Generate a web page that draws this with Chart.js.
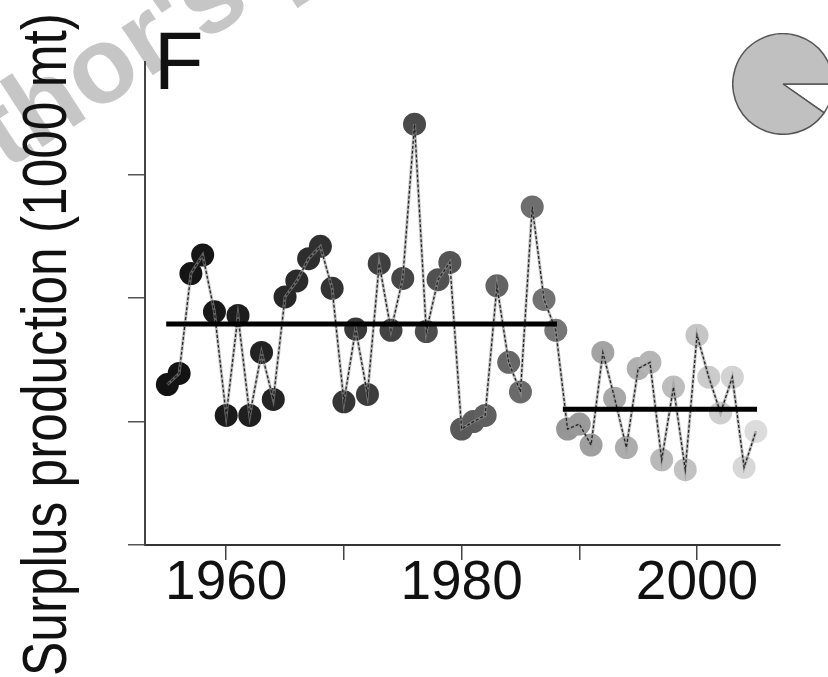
<!DOCTYPE html>
<html lang="en">
  <head>
    <meta charset="UTF-8" />
    <title>Surplus production</title>
    <script src="https://cdn.jsdelivr.net/npm/chart.js@4.4.1/dist/chart.umd.min.js"></script>
    <style>
      html, body { margin: 0; padding: 0; background: #fff; }
      body {
        width: 828px; height: 677px; overflow: hidden; position: relative;
        font-family: "Liberation Sans", Arial, sans-serif;
      }
      #mark {
        position: absolute; left: -115px; top: 158px;
        font-size: 108px; font-weight: bold; line-height: 1; color: #c6c6c6;
        white-space: nowrap; transform-origin: 0 91px; transform: rotate(-33deg);
      }
      #chart { position: absolute; left: 0; top: 0; }
      #ytitle {
        position: absolute; left: 13px; top: 676px;
        font-size: 63px; line-height: 1; color: #111; white-space: nowrap;
        transform-origin: 0 0; transform: rotate(-90deg) scaleX(0.816);
      }
      #panel {
        position: absolute; left: 154px; top: 21px;
        font-size: 81px; line-height: 1; color: #111;
      }
      #pie { position: absolute; left: 732px; top: 33px; }
    </style>
  </head>
  <body>
    <div id="mark">Author's personal copy</div>
    <canvas id="chart" width="828" height="677"></canvas>
    <div id="ytitle">Surplus production (1000 mt)</div>
    <div id="panel">F</div>
    <canvas id="pie" width="102" height="102"></canvas>

    <script>
      // data
      const years = [1955, 1956, 1957, 1958, 1959, 1960, 1961, 1962, 1963, 1964,
        1965, 1966, 1967, 1968, 1969, 1970, 1971, 1972, 1973, 1974,
        1975, 1976, 1977, 1978, 1979, 1980, 1981, 1982, 1983, 1984,
        1985, 1986, 1987, 1988, 1989, 1990, 1991, 1992, 1993, 1994,
        1995, 1996, 1997, 1998, 1999, 2000, 2001, 2002, 2003, 2004, 2005];
      const surplus = [1.30, 1.39, 2.20, 2.35, 1.89, 1.05, 1.86, 1.05, 1.56, 1.18,
        2.01, 2.14, 2.32, 2.42, 2.08, 1.16, 1.75, 1.22, 2.28, 1.74,
        2.16, 3.41, 1.73, 2.15, 2.29, 0.94, 1.00, 1.05, 2.10, 1.48,
        1.24, 2.74, 1.99, 1.74, 0.94, 0.98, 0.81, 1.56, 1.19, 0.79,
        1.43, 1.48, 0.69, 1.28, 0.61, 1.70, 1.36, 1.07, 1.36, 0.63, 0.92];

      // regime means
      const meanStart = [1954.9, 1988.6];
      const meanEnd = [1988.1, 2005.1];
      const meanLevel = [1.79, 1.10];

      const xTicks = [1960, 1970, 1980, 1990, 2000];
      const xLabelled = [1960, 1980, 2000];
      const yTicks = [0, 1, 2, 3];

      const pieShares = [9.7, 90.3];

      // points fade from black to light grey over time
      function shade(year) {
        let v;
        if (year < 1989) v = 18 + 100 * Math.pow((year - 1955) / 33, 1.3);
        else v = 150 + (year - 1989) * 70 / 16;
        v = Math.round(v);
        return "rgb(" + v + "," + v + "," + v + ")";
      }

      const pts = years.map((y, i) => ({ x: y, y: surplus[i] }));

      const datasets = [
        {
          data: pts,
          showLine: false,
          pointRadius: 11.5,
          pointHoverRadius: 11.5,
          pointBorderWidth: 0,
          pointBackgroundColor: years.map(shade),
          order: 4,
        },
        {
          data: pts,
          borderColor: "rgba(150,150,150,0.6)",
          borderWidth: 3,
          pointRadius: 0,
          order: 3,
        },
        {
          data: pts,
          borderColor: "#222",
          borderWidth: 1.3,
          borderDash: [3, 2],
          pointRadius: 0,
          order: 2,
        },
      ];
      meanLevel.forEach((m, i) => {
        datasets.push({
          data: [{ x: meanStart[i], y: m }, { x: meanEnd[i], y: m }],
          borderColor: "#000",
          borderWidth: 5,
          borderCapStyle: "butt",
          pointRadius: 0,
          order: 1,
        });
      });

      const ctx = document.getElementById("chart").getContext("2d");
      const myChart = new Chart(ctx, {
        type: "line",
        data: { datasets: datasets },
        options: {
          responsive: false,
          animation: false,
          layout: { padding: { left: 0, right: 48, top: 62, bottom: 0 } },
          plugins: { legend: { display: false }, tooltip: { enabled: false } },
          scales: {
            x: {
              type: "linear",
              min: 1953.1,
              max: 2007.05,
              afterBuildTicks: (s) => { s.ticks = xTicks.map((v) => ({ value: v })); },
              afterFit: (s) => { s.height = 132; },
              grid: { drawOnChartArea: false, tickLength: 15, color: "#444", lineWidth: 1.5 },
              border: { color: "#333", width: 2 },
              ticks: {
                autoSkip: false,
                maxRotation: 0,
                padding: -9,
                color: "#111",
                font: { family: "'Liberation Sans', Arial, sans-serif", size: 55 },
                callback: (v) => (xLabelled.includes(v) ? String(v) : ""),
              },
            },
            y: {
              min: 0,
              max: 3.914,
              afterBuildTicks: (s) => { s.ticks = yTicks.map((v) => ({ value: v })); },
              afterFit: (s) => { s.width = 145; },
              grid: { drawOnChartArea: false, tickLength: 17, color: "#555", lineWidth: 1.5 },
              border: { color: "#444", width: 2 },
              ticks: { display: false },
            },
          },
        },
      });

      // small pie at top right
      const pie = new Chart(document.getElementById("pie").getContext("2d"), {
        type: "pie",
        data: {
          datasets: [{
            data: pieShares,
            backgroundColor: ["#ffffff", "#c0c0c0"],
            borderColor: "#555",
            borderWidth: 1.5,
          }],
        },
        options: {
          responsive: false,
          animation: false,
          rotation: 90,
          plugins: { legend: { display: false }, tooltip: { enabled: false } },
        },
      });
    </script>
  </body>
</html>
